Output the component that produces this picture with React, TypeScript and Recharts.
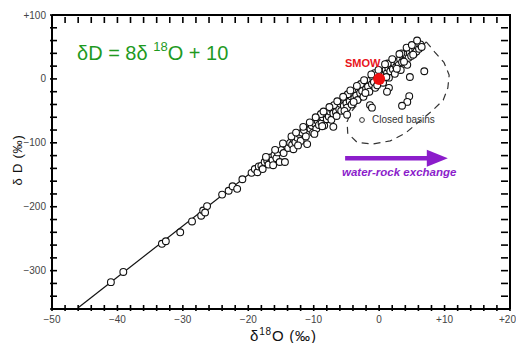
import { ScatterChart, Scatter, XAxis, YAxis } from 'recharts';

document.body.style.margin = '0';

// axis ticks (labels only on the major ones)
const xTicks = [-50, -40, -30, -20, -10, 0, 10, 20];
const xMinorTicks = [
  -50, -48, -46, -44, -42, -40, -38, -36, -34, -32, -30, -28, -26, -24, -22, -20, -18, -16,
  -14, -12, -10, -8, -6, -4, -2, 0, 2, 4, 6, 8, 10, 12, 14, 16, 18, 20,
];
const yTicks = [-300, -200, -100, 0, 100];
const yMinorTicks = [
  -360, -340, -320, -300, -280, -260, -240, -220, -200, -180, -160, -140, -120, -100, -80, -60,
  -40, -20, 0, 20, 40, 60, 80, 100,
];

// meteoric waters (δ18O, δD)
const watersO18 = [
  -41.0, -39.1, -33.2, -32.6, -30.4, -28.6, -27.2, -26.9, -26.3, -26.6, -24.0, -23.0, -22.4, -21.7,
  -20.9, -19.5, -19.0, -18.6,
  -18.4, -18.0, -17.8, -17.5, -17.1, -16.9, -16.6, -16.3, -16.0, -15.7, -15.5, -15.2, -14.9, -14.6,
  -14.4, -14.2, -13.9, -13.6, -13.3, -13.0, -12.8, -12.5, -12.2, -12.0, -11.8, -11.5, -11.2, -11.0,
  -10.8, -10.5, -10.3, -10.1,
  -9.8, -9.6, -9.4, -9.2, -9.0, -8.8, -8.6, -8.4, -8.2, -8.0, -7.8, -7.7, -7.5, -7.3, -7.2, -7.0,
  -6.8, -6.6, -6.5, -6.3, -6.1, -5.9, -5.8, -5.6, -5.4, -5.2, -5.0, -4.9, -4.7, -4.5, -4.3, -4.2,
  -4.0, -3.8, -3.6, -3.5, -3.3, -3.1, -2.9, -2.7, -2.6, -2.4, -2.2, -2.0, -1.8, -1.7, -1.5, -1.3,
  -1.1, -0.9, -0.8, -0.6, -0.4, -0.2, 0.1, 0.3, 0.5, 0.6, 0.8, 1.0, 1.2, 1.4, 1.5, 1.7, 1.9, 2.1,
  2.3, 2.4, 2.6, 2.8, 3.0, 3.2, 3.3, 3.5, 3.7, 3.9, 4.1, 4.3, 4.5, 4.7, 4.9, 5.1, 5.3, 5.5, 5.7,
  5.9, 6.1, 6.3, 6.5,
  -8.9, -6.9, -4.8, -2.8, -0.7, 1.3, 3.4,
  -17.3, -15.9, -14.7, -13.4, -12.7, -11.6, -10.6, -9.7, -8.5, -7.6, -6.4, -5.5, -4.4, -3.4, -2.3,
  -1.2, -0.1, 0.9, 2.0, 3.1, 4.2, 5.0, 5.8,
  -16.2, -13.1, -12.4, -9.9, -8.7, -7.0, -5.3, -3.9, -2.1, -0.3, 1.1, 2.7, 3.8, 5.2,
];
const watersD = [
  -318, -302, -258, -254, -240, -223, -214, -206, -199, -209, -181, -175, -168, -172,
  -157, -147, -141, -146,
  -137, -136, -141, -130, -128, -134, -123, -127, -119, -124, -115, -130, -111, -116,
  -130, -104, -108, -100, -103, -95, -99, -92, -86, -97, -84, -80, -90, -102,
  -75, -78, -73, -84,
  -70, -78, -66, -72, -62, -69, -60, -73, -56, -63, -52, -59, -51, -64, -48, -54,
  -45, -52, -58, -41, -47, -39, -50, -36, -42, -33, -38, -45, -29, -35, -27, -40,
  -23, -30, -20, -26, -33, -16, -22, -13, -19, -28, -9, -15, -6, -12, -20, -2,
  -8, 1, -5, -14, 5, -1, 8, 2, 11, -6, 5, 14, 9, 17, 2, 12, 21, 15,
  24, 8, 19, 27, 22, 31, 14, 26, 34, 29, 38, 22, 33, 41, 36, 45, 39, 48, 43,
  51, 47, 54, 50,
  -55, -41, -24, -8, 9, 24, 40,
  -122, -111, -101, -90, -84, -75, -68, -60, -51, -44, -35, -28, -18, -11, -2,
  7, 14, 23, 31, 39, 49, 53, 60,
  -135, -110, -104, -86, -74, -75, -50, -36, -22, -10, 3, 16, 27, 38,
];

// closed basin waters
const basinO18 = [4.7, 6.9, 4.6, 4.3, 3.5, 1.5, 1.2, -1.4, -1.1, -4.9];
const basinD = [3, 12, -27, -36, -42, -14, -20, -41, -45, -56];

// dashed envelope around closed basins
const envelopeO18 = [7.2, 8.5, 9.9, 10.7, 10.5, 9.8, 8.2, 6.2, 4.0, 1.7, -1.1, -3.4, -4.8, -4.9, -4.3, -3.2, -1.0, 1.5, 4.0, 6.0, 7.2];
const envelopeD = [58, 42, 26, 6, -14, -33, -49, -66, -85, -97, -102, -99, -85, -67, -52, -38, -17, 3, 25, 45, 58];

// meteoric water line dD = 8 d18O + 10
const mwlO18 = [-46, 6];
const mwlD = [-358, 58];

// top and right sides of the box
const frameO18 = [-50, 20, 20];
const frameD = [100, 100, -360];

const smowO18 = [0];
const smowD = [0];

// water-rock exchange arrow
const arrowO18 = [-5.2, 7.8];
const arrowD = [-124, -124];
const arrowTipO18 = [10.5];
const arrowTipD = [-124];

const toXY = (xs: number[], ys: number[]) => xs.map((x, i) => ({ x, y: ys[i] }));

const fmt = (v: number) => (v === 0 ? '0' : v > 0 ? `+${v}` : `\u2212${Math.abs(v)}`);

const FONT = '"Liberation Sans", Arial, Helvetica, sans-serif';
const PURPLE = '#8c1dcb';
const INK = '#000';

const W = 516;
const H = 343;
const MARGIN = { top: 15, right: 6, bottom: 0, left: 0 };
const X_AXIS_H = 34;
const Y_AXIS_W = 52;
const PLOT_W = W - MARGIN.left - MARGIN.right - Y_AXIS_W;
const PLOT_H = H - MARGIN.top - MARGIN.bottom - X_AXIS_H;

// inward ticks on the bottom and mirrored on the top side
const XTick = (p: any) => {
  const v = p.payload.value;
  const last = v === xTicks[xTicks.length - 1];
  return (
    <g>
      <path d={`M${p.x},${p.y}V${p.y - 6}`} stroke={INK} strokeWidth={1.6} fill="none" />
      <path d={`M${p.x},${p.y - PLOT_H}V${p.y - PLOT_H + 6}`} stroke={INK} strokeWidth={1.6} fill="none" />
      {xTicks.includes(v) && (
        <text
          x={last ? p.x + 6 : p.x}
          y={p.y + 12}
          textAnchor={last ? 'end' : 'middle'}
          fontSize={10}
          fill="#444"
          fontFamily={FONT}
        >
          {fmt(v)}
        </text>
      )}
    </g>
  );
};

// inward ticks on the left and mirrored on the right side
const YTick = (p: any) => {
  const v = p.payload.value;
  return (
    <g>
      <path d={`M${p.x},${p.y}H${p.x + 7}`} stroke={INK} strokeWidth={1.6} fill="none" />
      <path d={`M${p.x + PLOT_W},${p.y}H${p.x + PLOT_W - 7}`} stroke={INK} strokeWidth={1.6} fill="none" />
      {yTicks.includes(v) && (
        <text x={p.x - 4} y={p.y + 3.5} textAnchor="end" fontSize={10} fill="#444" fontFamily={FONT}>
          {fmt(v)}
        </text>
      )}
    </g>
  );
};

const OpenCircle = (p: any) => (
  <circle cx={p.cx} cy={p.cy} r={3.4} fill="#fff" stroke="#111" strokeWidth={1.1} />
);
const Nothing = () => <g />;
const SmowDot = (p: any) => <circle cx={p.cx} cy={p.cy} r={6} fill="#ee1111" />;
const ArrowHead = (p: any) => (
  <polygon
    points={`${p.cx},${p.cy} ${p.cx - 21},${p.cy - 8.5} ${p.cx - 21},${p.cy + 8.5}`}
    fill={PURPLE}
  />
);

export default function App() {
  return (
    <div style={{ position: 'relative', width: W, height: H, fontFamily: FONT }}>
      <ScatterChart width={W} height={H} margin={MARGIN}>
        <XAxis
          type="number"
          dataKey="x"
          domain={[-50, 20]}
          ticks={xMinorTicks}
          interval={0}
          height={X_AXIS_H}
          tickSize={0}
          tickLine={false}
          axisLine={{ stroke: INK, strokeWidth: 2 }}
          tick={XTick}
        />
        <YAxis
          type="number"
          dataKey="y"
          domain={[-360, 100]}
          ticks={yMinorTicks}
          interval={0}
          width={Y_AXIS_W}
          tickSize={0}
          tickLine={false}
          axisLine={{ stroke: INK, strokeWidth: 2 }}
          tick={YTick}
        />

        <Scatter
          data={toXY(frameO18, frameD)}
          line={{ stroke: INK, strokeWidth: 2 }}
          shape={Nothing}
          isAnimationActive={false}
        />
        <Scatter
          data={toXY(mwlO18, mwlD)}
          line={{ stroke: '#111', strokeWidth: 1.2 }}
          shape={Nothing}
          isAnimationActive={false}
        />
        <Scatter
          data={toXY(envelopeO18, envelopeD)}
          line={{ stroke: '#333', strokeWidth: 1.2, strokeDasharray: '7 5' }}
          shape={Nothing}
          isAnimationActive={false}
        />
        <Scatter data={toXY(watersO18, watersD)} shape={OpenCircle} isAnimationActive={false} />
        <Scatter data={toXY(basinO18, basinD)} shape={OpenCircle} isAnimationActive={false} />
        <Scatter data={toXY(smowO18, smowD)} shape={SmowDot} isAnimationActive={false} />
        <Scatter
          data={toXY(arrowO18, arrowD)}
          line={{ stroke: PURPLE, strokeWidth: 4.5 }}
          shape={Nothing}
          isAnimationActive={false}
        />
        <Scatter data={toXY(arrowTipO18, arrowTipD)} shape={ArrowHead} isAnimationActive={false} />
      </ScatterChart>

      <div style={{ position: 'absolute', left: 77, top: 34, fontSize: 20, color: '#1f9a1f', whiteSpace: 'nowrap', lineHeight: '26px' }}>
        δD = 8δ <sup style={{ fontSize: 13, verticalAlign: 9 }}>18</sup>O + 10
      </div>
      <div style={{ position: 'absolute', left: 345, top: 57, fontSize: 11, fontWeight: 700, color: '#e8141c', lineHeight: '13px' }}>
        SMOW
      </div>
      <div style={{ position: 'absolute', left: 358, top: 114, fontSize: 10, color: '#333', whiteSpace: 'nowrap', lineHeight: '12px', display: 'flex', alignItems: 'center' }}>
        <svg width={8} height={8} style={{ marginRight: 6 }}>
          <circle cx={4} cy={4} r={2.4} fill="#fff" stroke="#333" strokeWidth={1} />
        </svg>
        Closed basins
      </div>
      <div style={{ position: 'absolute', left: 342, top: 165, fontSize: 11.5, fontWeight: 700, fontStyle: 'italic', color: PURPLE, whiteSpace: 'nowrap', lineHeight: '14px' }}>
        water-rock exchange
      </div>
      <div style={{ position: 'absolute', left: 250, top: 322, fontSize: 15, color: '#111', whiteSpace: 'nowrap', lineHeight: '20px', letterSpacing: 0.8 }}>
        δ<sup style={{ fontSize: 10, verticalAlign: 6 }}>18</sup>O (‰)
      </div>
      <div
        style={{
          position: 'absolute',
          left: 17,
          top: 160,
          fontSize: 13,
          color: '#111',
          whiteSpace: 'nowrap',
          lineHeight: '15px',
          letterSpacing: 0.8,
          transform: 'translate(-50%, -50%) rotate(-90deg)',
        }}
      >
        δ D (‰)
      </div>
    </div>
  );
}
